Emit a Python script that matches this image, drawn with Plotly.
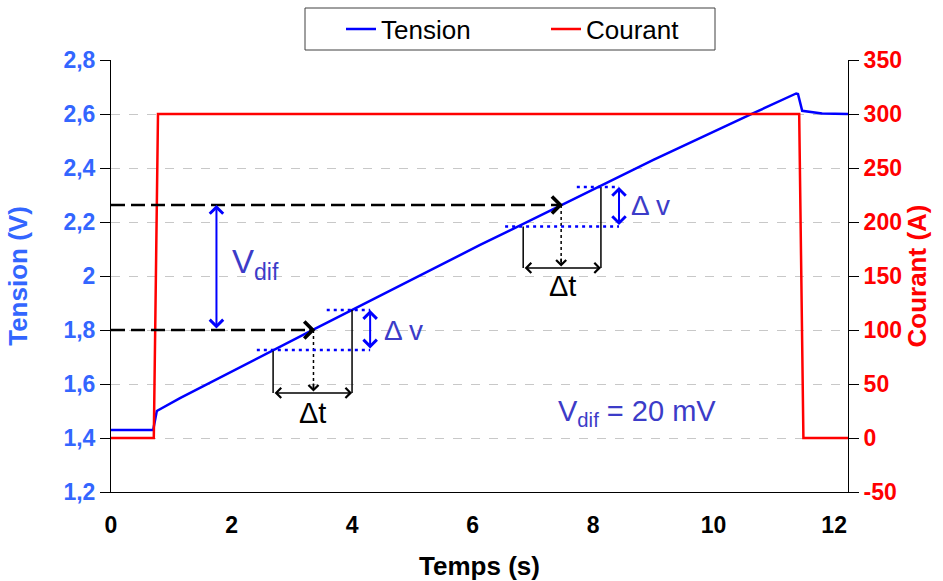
import plotly.graph_objects as go

# --- measured series -------------------------------------------------------
time_v = [0.0, 0.70, 0.76, 1.145, 3.39, 5.46, 6.125, 7.50, 9.0, 10.66, 11.37, 11.40, 11.47, 11.8, 12.23]
tension = [1.43, 1.43, 1.50, 1.548, 1.805, 2.041, 2.115, 2.265, 2.430, 2.603, 2.676, 2.674, 2.612, 2.602, 2.600]

time_i = [0.0, 0.71, 0.78, 11.42, 11.49, 12.23]
courant = [0, 0, 300, 300, 0, 0]

# --- axes ------------------------------------------------------------------
x_ticks = [0, 2, 4, 6, 8, 10, 12]
v_ticks = [1.2, 1.4, 1.6, 1.8, 2.0, 2.2, 2.4, 2.6, 2.8]
v_labels = ["1,2", "1,4", "1,6", "1,8", "2", "2,2", "2,4", "2,6", "2,8"]
i_ticks = [-50, 0, 50, 100, 150, 200, 250, 300, 350]
i_labels = ["-50", "0", "50", "100", "150", "200", "250", "300", "350"]

# --- construction lines (time, voltage) ------------------------------------
vdif_levels = [1.8, 2.263]          # dashed reference levels
vdif_hits = [3.39, 7.50]            # where each level meets the curve
vdif_arrow_t = 1.75
box_left = [2.69, 6.84]
box_right = [4.00, 8.13]
box_low_v = [1.726, 2.183]          # lower dotted level
box_high_v = [1.874, 2.330]         # upper dotted level
box_low_start = [2.42, 6.54]
box_high_start = [3.58, 7.73]
box_dv_t = [4.30, 8.43]
box_base_v = [1.567, 2.030]         # Δt arrow level

BLUE = "#0000ff"
RED = "#ff0000"
AX_BLUE = "#3366ff"
TXT_BLUE = "#3c3cc8"
FONT = "Liberation Sans, Arial, sans-serif"

fig = go.Figure()
fig.add_trace(go.Scatter(x=time_v, y=tension, mode="lines", name="Tension",
                         line=dict(color=BLUE, width=2.5)))
fig.add_trace(go.Scatter(x=time_i, y=courant, mode="lines", name="Courant",
                         line=dict(color=RED, width=2.5), yaxis="y2"))

shapes = []
annots = []


def seg(x0, y0, x1, y1, color, width, dash="solid"):
    shapes.append(dict(type="line", xref="x", yref="y", x0=x0, y0=y0, x1=x1, y1=y1,
                       line=dict(color=color, width=width, dash=dash)))


def head(x, y, ax, ay, color, width, both=False):
    annots.append(dict(x=x, y=y, ax=ax, ay=ay, xref="x", yref="y", axref="x", ayref="y",
                       showarrow=True, arrowhead=4, arrowsize=1.3, arrowwidth=width,
                       arrowcolor=color, arrowside="end+start" if both else "end", text=""))


for k in range(2):
    lvl, hit = vdif_levels[k], vdif_hits[k]
    # dashed level line ending in an arrow on the curve
    seg(0, lvl, hit - 0.05, lvl, "black", 2.5, "14px,6px")
    head(hit, lvl, hit - 0.12, lvl, "black", 2.5)
    # dotted drop from the curve to the Δt arrow
    seg(hit - 0.03, lvl, hit - 0.03, box_base_v[k] + 0.02, "black", 1.5, "dot")
    head(hit - 0.03, box_base_v[k] + 0.005, hit - 0.03, box_base_v[k] + 0.04, "black", 1.5)
    # Δt bracket
    seg(box_left[k], box_low_v[k], box_left[k], box_base_v[k], "black", 1.5)
    seg(box_right[k], box_high_v[k], box_right[k], box_base_v[k], "black", 1.5)
    head(box_right[k], box_base_v[k], box_left[k], box_base_v[k], "black", 1.5, both=True)
    # Δv bracket
    seg(box_low_start[k], box_low_v[k], box_dv_t[k], box_low_v[k], BLUE, 2.5, "3px,4px")
    seg(box_high_start[k], box_high_v[k], box_dv_t[k], box_high_v[k], BLUE, 2.5, "3px,4px")
    head(box_dv_t[k], box_high_v[k], box_dv_t[k], box_low_v[k], BLUE, 2, both=True)

# V_dif arrow
head(vdif_arrow_t, vdif_levels[1], vdif_arrow_t, vdif_levels[0], BLUE, 2, both=True)


def label(x, y, text, size, color):
    annots.append(dict(x=x, y=y, xref="x", yref="y", text=text, showarrow=False,
                       font=dict(family=FONT, size=size, color=color)))


label(2.39, 2.045, "V<sub>dif</sub>", 33, TXT_BLUE)
label(4.85, 1.80, "Δ v", 28, TXT_BLUE)
label(8.95, 2.262, "Δ v", 28, TXT_BLUE)
label(3.34, 1.493, "Δt", 29, "black")
label(7.49, 1.963, "Δt", 29, "black")
label(8.73, 1.493, "V<sub>dif</sub> = 20 mV", 29, TXT_BLUE)

# legend frame
shapes.append(dict(type="rect", xref="paper", yref="paper",
                   x0=(305 - 111) / 737, x1=(715 - 111) / 737,
                   y0=(492 - 50) / 432, y1=(492 - 8) / 432,
                   line=dict(color="#404040", width=1), fillcolor="white", layer="below"))

fig.update_layout(
    width=943, height=581,
    margin=dict(l=111, r=95, t=60, b=89, autoexpand=False),
    paper_bgcolor="white", plot_bgcolor="white",
    font=dict(family=FONT, color="black"),
    showlegend=True,
    legend=dict(orientation="h", x=(341 - 111) / 737, xanchor="left",
                y=(492 - 29) / 432, yanchor="middle",
                font=dict(size=26, family=FONT, color="black"),
                bgcolor="rgba(0,0,0,0)", entrywidth=160, itemwidth=30),
    xaxis=dict(range=[0, 12.23], tickvals=x_ticks, ticks="", showgrid=False,
               showline=True, linecolor="black", linewidth=1, zeroline=False,
               ticklabelstandoff=12,
               tickfont=dict(size=23, family=FONT, color="black", weight="bold"),
               title=dict(text="<b>Temps (s)</b>", font=dict(size=26, family=FONT), standoff=22)),
    yaxis=dict(range=[1.2, 2.8], tickvals=v_ticks, ticktext=v_labels,
               ticks="outside", ticklen=10, tickcolor="black",
               showline=True, linecolor="black", linewidth=1, zeroline=False,
               showgrid=True, gridcolor="#c8c8c8", griddash="dash", gridwidth=1,
               tickfont=dict(size=23, family=FONT, color=AX_BLUE, weight="bold"),
               title=dict(text="<b>Tension (V)</b>", font=dict(size=26, family=FONT, color=AX_BLUE),
                          standoff=28)),
    yaxis2=dict(range=[-50, 350], tickvals=i_ticks, ticktext=i_labels, overlaying="y", side="right",
                ticks="outside", ticklen=10, tickcolor="black",
                showline=True, linecolor="black", linewidth=1, zeroline=False, showgrid=False,
                tickfont=dict(size=23, family=FONT, color=RED, weight="bold"),
                title=dict(text="<b>Courant (A)</b>", font=dict(size=26, family=FONT, color=RED),
                           standoff=4)),
    shapes=shapes,
    annotations=annots,
)

fig.write_html("out.html")
